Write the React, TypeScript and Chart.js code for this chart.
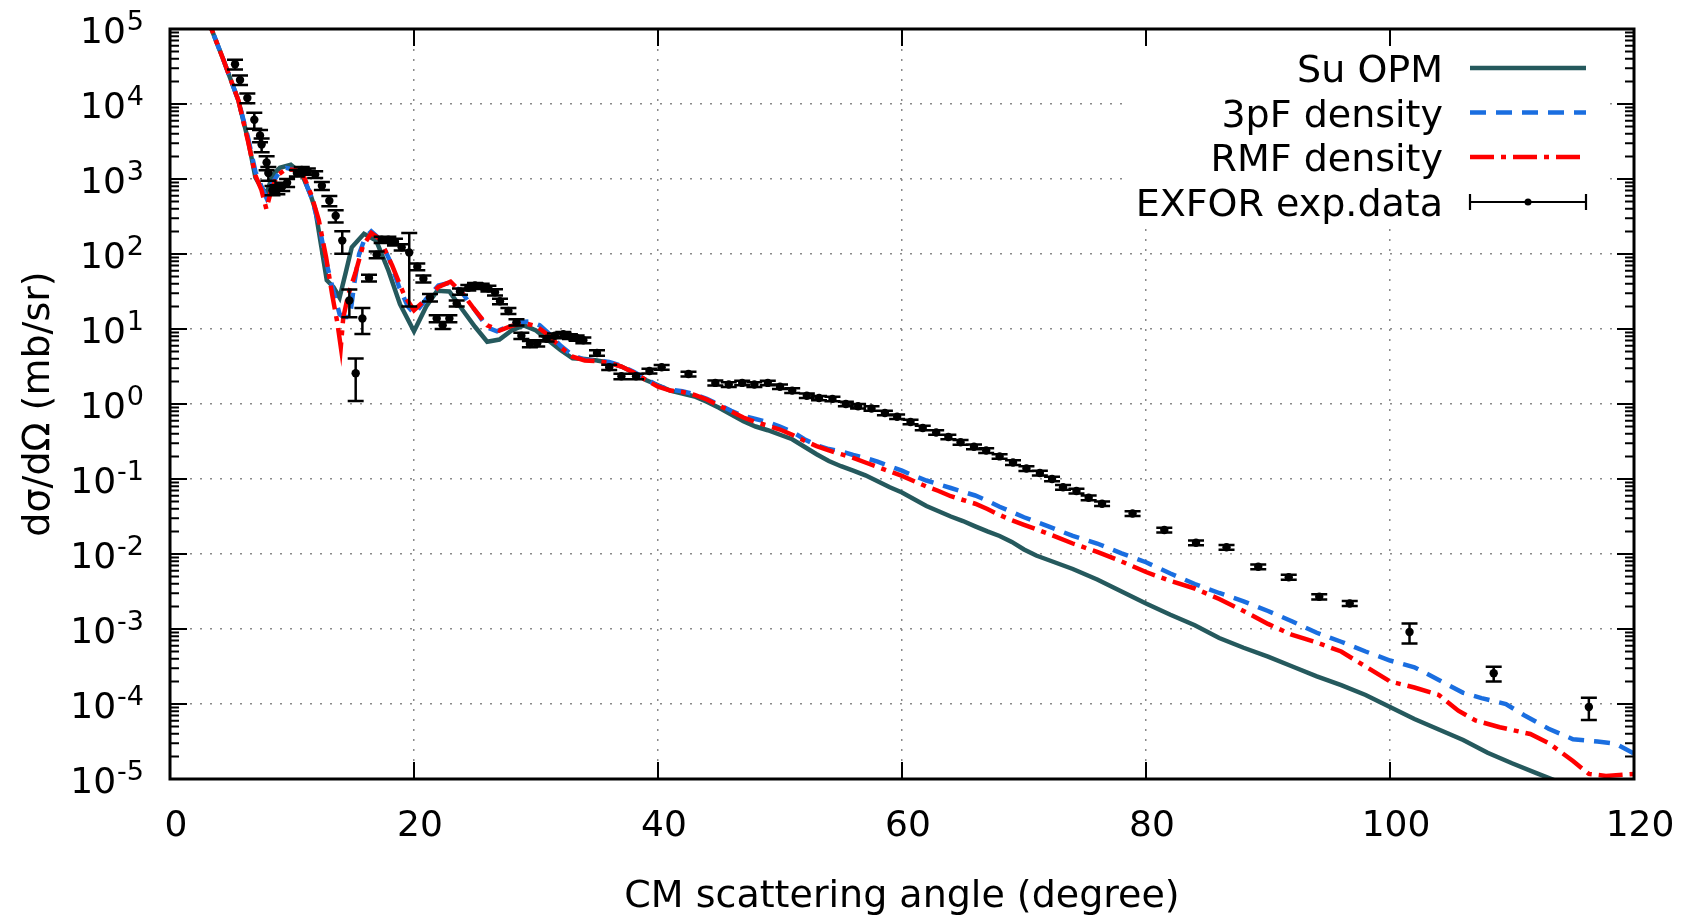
import React, { useEffect, useRef } from "react";
import { Chart, registerables } from "chart.js";

Chart.register(...registerables);

const FONT = "DejaVu Sans";

const seriesLabels = ["Su OPM", "3pF density", "RMF density", "EXFOR exp.data"];
const xTitle = "CM scattering angle (degree)";
const yTitle = "dσ/dΩ (mb/sr)";
const xTickValues = [0, 20, 40, 60, 80, 100, 120];
const yTickValues = [1e-5, 1e-4, 1e-3, 1e-2, 1e-1, 1e0, 1e1, 1e2, 1e3, 1e4, 1e5];
const yTickExponents = ["-5", "-4", "-3", "-2", "-1", "0", "1", "2", "3", "4", "5"];

// Su OPM
const suAngle = [
  3.0, 3.4, 4.4, 5.6, 6.4, 7.0, 7.5, 7.9, 8.4, 9.0,
  9.9, 10.8, 11.5, 11.9, 12.4, 12.85, 13.4, 13.9, 14.4, 14.9,
  15.9, 16.9, 17.9, 18.85, 20.0, 21.0, 21.9, 22.9, 24.0, 25.0,
  26, 27, 28, 29, 30, 31, 32, 33, 34, 35,
  36, 37, 38, 39, 40, 41, 42, 43, 44, 45,
  46, 47, 48, 49, 50, 51, 52, 53, 54, 55,
  56, 57, 58, 59, 60, 61, 62, 63, 64, 65,
  66, 67, 68, 69, 70, 71, 72, 74, 76, 78,
  80, 82, 84, 86, 88, 90, 92, 94, 96, 98,
  100, 102, 104, 106, 108, 110, 112, 114,
];
const suValue = [
  1.78e5, 1.0e5, 3.8e4, 1.12e4, 3.31e3, 1.05e3, 759, 631, 1.12e3, 1.41e3,
  1.55e3, 1.17e3, 631, 398, 126, 44.7, 36.3, 26.3, 56.2, 123,
  186, 151, 60.3, 21.4, 9.33, 20.0, 32.4, 31.6, 17.8, 10.7,
  6.76, 7.24, 9.55, 11.2, 9.55, 7.08, 5.25, 4.07, 3.98, 3.8,
  3.55, 3.16, 2.63, 2.09, 1.78, 1.51, 1.38, 1.26, 1.07, 0.891,
  0.724, 0.589, 0.501, 0.447, 0.389, 0.339, 0.269, 0.214, 0.174, 0.148,
  0.129, 0.112, 0.0933, 0.0776, 0.0661, 0.0537, 0.0437, 0.0372, 0.0316, 0.0275,
  0.0234, 0.02, 0.0174, 0.0145, 0.0115, 0.00955, 0.00832, 0.00631, 0.00457, 0.00316,
  0.00219, 0.00155, 0.00112, 7.59e-4, 5.62e-4, 4.27e-4, 3.16e-4, 2.34e-4, 1.78e-4, 1.32e-4,
  9.12e-5, 6.31e-5, 4.57e-5, 3.31e-5, 2.24e-5, 1.62e-5, 1.2e-5, 8.91e-6,
];

// 3pF density
const pfAngle = [
  3.0, 3.4, 4.4, 5.6, 6.4, 7.0, 7.5, 7.9, 8.4, 9.0,
  9.5, 10.3, 11.0, 11.6, 12.2, 12.8, 13.4, 13.9, 14.2, 14.75,
  15.1, 15.5, 16.0, 16.5, 17.2, 18.0, 18.8, 19.5, 20.05, 21.0,
  22.0, 23.0, 24.0, 25.0, 26.0, 26.8, 27.5, 28.5, 29.5, 30.3,
  31, 32, 33, 34, 35, 36, 37, 38, 39, 40,
  41, 42, 43, 44, 45, 46, 47, 48, 49, 50,
  51, 52, 53, 54, 55, 56, 57, 58, 59, 60,
  61, 62, 63, 64, 65, 66, 67, 68, 69, 70,
  72, 74, 76, 78, 80, 82, 84, 86, 88, 90,
  92, 94, 96, 98, 100, 102, 104, 106, 107.5, 109.5,
  111, 113, 115, 117, 118.5, 120,
];
const pfValue = [
  1.78e5, 1.0e5, 3.8e4, 1.12e4, 3.55e3, 1.26e3, 794, 562, 891, 1.26e3,
  1.41e3, 1.32e3, 1.0e3, 562, 251, 79.4, 31.6, 15.8, 14.5, 14.5,
  39.8, 100, 166, 200, 158, 83.2, 35.5, 20.0, 15.8, 25.1,
  38.0, 41.7, 29.5, 17.8, 10.5, 9.33, 10.5, 12.3, 12.6, 11.2,
  8.91, 6.03, 4.47, 3.89, 3.8, 3.63, 3.24, 2.69, 2.19, 1.74,
  1.55, 1.48, 1.35, 1.17, 0.977, 0.813, 0.692, 0.631, 0.575, 0.501,
  0.427, 0.339, 0.282, 0.251, 0.234, 0.209, 0.191, 0.17, 0.148, 0.129,
  0.11, 0.0955, 0.0851, 0.0759, 0.0676, 0.0603, 0.0513, 0.0427, 0.0363, 0.0309,
  0.0234, 0.0174, 0.0138, 0.0102, 0.00776, 0.0055, 0.00398, 0.00302, 0.00234, 0.00174,
  0.00126, 8.91e-4, 6.76e-4, 5.01e-4, 3.8e-4, 3.09e-4, 2.09e-4, 1.41e-4, 1.2e-4, 1.0e-4,
  7.08e-5, 4.68e-5, 3.39e-5, 3.16e-5, 2.95e-5, 2.19e-5,
];

// RMF density
const rmfAngle = [
  3.0, 3.4, 4.4, 5.6, 6.4, 7.0, 7.5, 7.9, 8.3, 8.8,
  9.5, 10.3, 11.0, 11.6, 12.2, 12.8, 13.3, 13.7, 14.0, 14.2,
  14.6, 15.2, 15.8, 16.5, 17.2, 18.2, 19.2, 20.0, 21.0, 22.0,
  23, 24, 25, 26, 27, 28, 29, 30, 31, 32,
  33, 34, 35, 36, 37, 38, 39, 40, 41, 42,
  43, 44, 45, 46, 47, 48, 49, 50, 51, 52,
  53, 54, 55, 56, 57, 58, 59, 60, 61, 62,
  63, 64, 65, 66, 67, 68, 69, 70, 72, 74,
  76, 78, 80, 82, 84, 86, 88, 90, 92, 94,
  96, 98, 100, 102, 104, 105.6, 107, 109, 111.5, 113,
  115, 116.3, 117.7, 120,
];
const rmfValue = [
  1.78e5, 1.0e5, 3.8e4, 1.12e4, 3.16e3, 1.12e3, 708, 398, 708, 1.12e3,
  1.35e3, 1.32e3, 1.05e3, 603, 282, 89.1, 28.2, 12.6, 5.75, 14.1,
  28.2, 56.2, 126, 191, 158, 70.8, 28.2, 17.8, 25.1, 36.3,
  42.7, 29.5, 17.8, 11.2, 9.55, 11.0, 12.0, 11.0, 8.32, 5.75,
  4.27, 3.8, 3.72, 3.55, 3.16, 2.63, 2.09, 1.7, 1.51, 1.45,
  1.32, 1.15, 0.955, 0.794, 0.661, 0.575, 0.513, 0.457, 0.389, 0.324,
  0.275, 0.24, 0.214, 0.191, 0.166, 0.145, 0.126, 0.11, 0.0933, 0.0794,
  0.0692, 0.0589, 0.0525, 0.0468, 0.0398, 0.0331, 0.0282, 0.0245, 0.0186, 0.0138,
  0.0107, 0.00794, 0.00575, 0.00437, 0.00347, 0.00251, 0.00174, 0.00117, 8.32e-4, 6.61e-4,
  5.01e-4, 3.16e-4, 2.0e-4, 1.66e-4, 1.32e-4, 8.13e-5, 6.03e-5, 4.9e-5, 3.98e-5, 3.02e-5,
  1.74e-5, 1.17e-5, 1.1e-5, 1.17e-5,
];

// EXFOR experimental data
const expAngle = [
  5.33, 5.74, 6.34, 6.91, 7.38, 7.51, 7.92, 8.06, 8.4, 8.8,
  9.2, 9.6, 10.4, 10.8, 11.3, 11.9, 12.45, 13.06, 13.58, 14.12,
  14.7, 15.22, 15.77, 16.31, 16.94, 17.35, 17.9, 18.44, 18.99, 19.61,
  20.27, 20.77, 21.31, 21.86, 22.35, 22.9, 23.5, 23.77, 24.45, 25.0,
  25.55, 26.1, 26.64, 27.05, 27.74, 28.4, 28.8, 29.5, 30.1, 30.87,
  31.55, 32.24, 32.78, 33.33, 33.88, 35.0, 36.0, 37.0, 38.2, 39.3,
  40.3, 42.5, 44.7, 45.8, 46.9, 47.9, 49.0, 50.0, 51.0, 52.2,
  53.2, 54.3, 55.4, 56.4, 57.5, 58.6, 59.6, 60.7, 61.7, 62.8,
  63.8, 64.8, 65.9, 66.9, 68.0, 69.1, 70.2, 71.3, 72.3, 73.2,
  74.3, 75.3, 76.4, 78.9, 81.5, 84.1, 86.6, 89.2, 91.7, 94.2,
  96.7, 101.6, 108.5, 116.3,
];
const expValue = [
  3.39e4, 2.09e4, 1.2e4, 6.17e3, 3.8e3, 2.88e3, 1.66e3, 1.2e3, 708, 724,
  794, 891, 1.2e3, 1.32e3, 1.26e3, 1.15e3, 813, 513, 324, 151,
  24.0, 2.57, 13.8, 47.9, 97.7, 155, 155, 145, 123, 105,
  67.6, 46.8, 26.3, 13.8, 11.2, 13.8, 21.9, 31.6, 35.5, 38.0,
  37.2, 34.7, 30.9, 23.4, 17.4, 12.3, 8.13, 6.31, 6.46, 7.41,
  8.13, 8.51, 7.94, 7.59, 7.08, 4.79, 3.09, 2.34, 2.34, 2.75,
  3.09, 2.51, 1.91, 1.82, 1.91, 1.82, 1.91, 1.7, 1.51, 1.29,
  1.2, 1.17, 1.0, 0.933, 0.871, 0.759, 0.676, 0.575, 0.479, 0.417,
  0.363, 0.309, 0.269, 0.24, 0.2, 0.166, 0.138, 0.12, 0.1, 0.0776,
  0.0692, 0.0562, 0.0468, 0.0347, 0.0209, 0.0141, 0.0123, 0.00676, 0.0049, 0.00269,
  0.00219, 9.12e-4, 2.57e-4, 9.12e-5,
];
const expError = [
  5.0e3, 3.0e3, 1.8e3, 1.5e3, 700, 600, 350, 250, 100, 100,
  100, 110, 120, 130, 120, 120, 100, 80, 60, 50,
  9.7, 1.47, 5.2, 5, 10, 15, 15, 15, 12, 85,
  7, 5, 3, 1.5, 1.2, 1.5, 2, 3, 3, 3,
  3, 3, 3, 2, 1.6, 1.2, 0.8, 0.6, 0.6, 0.6,
  0.6, 0.6, 0.6, 0.6, 0.6, 0.4, 0.25, 0.2, 0.2, 0.2,
  0.22, 0.18, 0.14, 0.13, 0.13, 0.13, 0.13, 0.12, 0.11, 0.09,
  0.08, 0.08, 0.07, 0.065, 0.06, 0.053, 0.047, 0.04, 0.034, 0.029,
  0.025, 0.022, 0.019, 0.017, 0.014, 0.012, 0.01, 0.0085, 0.007, 0.0055,
  0.0049, 0.004, 0.0033, 0.0025, 0.0015, 0.001, 0.0009, 0.0005, 0.00038, 0.00022,
  0.00017, 2.7e-4, 5.8e-5, 3.0e-5,
];

const TEAL = "#25595d";
const BLUE = "#1a6ee0";
const RED = "#ff0000";

const decorPlugin = {
  id: "decor",
  afterDatasetsDraw(chart: any) {
    const { ctx, chartArea: a } = chart;
    const x = chart.scales.x;
    const y = chart.scales.y;
    ctx.save();
    ctx.beginPath();
    ctx.rect(a.left, a.top, a.right - a.left, a.bottom - a.top);
    ctx.clip();
    // error bars
    ctx.strokeStyle = "#000";
    ctx.lineWidth = 2.5;
    ctx.beginPath();
    for (let i = 0; i < expAngle.length; i++) {
      const px = x.getPixelForValue(expAngle[i]);
      const y1 = y.getPixelForValue(expValue[i] - expError[i]);
      const y2 = y.getPixelForValue(expValue[i] + expError[i]);
      ctx.moveTo(px, y1);
      ctx.lineTo(px, y2);
      ctx.moveTo(px - 8, y1);
      ctx.lineTo(px + 8, y1);
      ctx.moveTo(px - 8, y2);
      ctx.lineTo(px + 8, y2);
    }
    ctx.stroke();
    ctx.restore();

    // key (opaque)
    ctx.save();
    ctx.fillStyle = "#fff";
    ctx.fillRect(1125, 46, 483, 182);
    const ds = chart.data.datasets;
    const rowY = [68, 112.5, 157, 202];
    const textRight = 1443;
    const s0 = 1470;
    const s1 = 1586;
    ctx.font = `38px "${FONT}"`;
    ctx.fillStyle = "#000";
    ctx.textAlign = "right";
    ctx.textBaseline = "alphabetic";
    for (let i = 0; i < 4; i++) {
      const d = ds[i];
      ctx.fillText(d.label, textRight, rowY[i] + 14);
      if (i < 3) {
        ctx.save();
        ctx.strokeStyle = d.borderColor;
        ctx.lineWidth = d.borderWidth;
        ctx.setLineDash(d.borderDash || []);
        ctx.beginPath();
        ctx.moveTo(s0, rowY[i]);
        ctx.lineTo(s1, rowY[i]);
        ctx.stroke();
        ctx.restore();
      } else {
        ctx.save();
        ctx.strokeStyle = "#000";
        ctx.lineWidth = 2.2;
        ctx.beginPath();
        ctx.moveTo(s0, rowY[i]);
        ctx.lineTo(s1, rowY[i]);
        ctx.moveTo(s0, rowY[i] - 8);
        ctx.lineTo(s0, rowY[i] + 8);
        ctx.moveTo(s1, rowY[i] - 8);
        ctx.lineTo(s1, rowY[i] + 8);
        ctx.stroke();
        ctx.fillStyle = "#000";
        ctx.beginPath();
        ctx.arc((s0 + s1) / 2, rowY[i], 3.5, 0, Math.PI * 2);
        ctx.fill();
        ctx.restore();
      }
    }
    ctx.restore();
  },
  afterDraw(chart: any) {
    const { ctx, chartArea: a } = chart;
    const x = chart.scales.x;
    const y = chart.scales.y;
    ctx.save();
    ctx.strokeStyle = "#000";
    // inward ticks
    ctx.lineWidth = 2;
    ctx.beginPath();
    for (const v of xTickValues) {
      const px = x.getPixelForValue(v);
      ctx.moveTo(px, a.bottom);
      ctx.lineTo(px, a.bottom - 17);
      ctx.moveTo(px, a.top);
      ctx.lineTo(px, a.top + 17);
    }
    for (let k = 0; k < yTickValues.length; k++) {
      const dec = yTickValues[k];
      const py = y.getPixelForValue(dec);
      ctx.moveTo(a.left, py);
      ctx.lineTo(a.left + 17, py);
      ctx.moveTo(a.right, py);
      ctx.lineTo(a.right - 17, py);
      if (k < yTickValues.length - 1) {
        for (let m = 2; m <= 9; m++) {
          const pm = y.getPixelForValue(dec * m);
          ctx.moveTo(a.left, pm);
          ctx.lineTo(a.left + 9, pm);
          ctx.moveTo(a.right, pm);
          ctx.lineTo(a.right - 9, pm);
        }
      }
    }
    ctx.stroke();
    // frame
    ctx.lineWidth = 3;
    ctx.strokeRect(a.left, a.top, a.right - a.left, a.bottom - a.top);

    // y tick labels with superscript exponents
    ctx.fillStyle = "#000";
    ctx.textAlign = "right";
    ctx.textBaseline = "alphabetic";
    const right = 144;
    for (let k = 0; k < yTickValues.length; k++) {
      const py = y.getPixelForValue(yTickValues[k]);
      ctx.font = `27px "${FONT}"`;
      const e = yTickExponents[k];
      const ew = ctx.measureText(e).width;
      ctx.fillText(e, right, py + 1);
      ctx.font = `36px "${FONT}"`;
      ctx.fillText("10", right - ew - 1, py + 14);
    }
    ctx.restore();
  },
};

export default function App() {
  const ref = useRef<HTMLCanvasElement | null>(null);
  useEffect(() => {
    if (!ref.current) return;
    const toXY = (xs: number[], ys: number[]) => xs.map((v, i) => ({ x: v, y: ys[i] }));
    const chart = new Chart(ref.current, {
      type: "line",
      data: {
        datasets: [
          {
            label: seriesLabels[0],
            data: toXY(suAngle, suValue),
            borderColor: TEAL,
            backgroundColor: TEAL,
            borderWidth: 4.5,
            pointRadius: 0,
            tension: 0,
            order: 3,
          },
          {
            label: seriesLabels[1],
            data: toXY(pfAngle, pfValue),
            borderColor: BLUE,
            backgroundColor: BLUE,
            borderWidth: 4.5,
            borderDash: [16, 10],
            pointRadius: 0,
            tension: 0,
            order: 2,
          },
          {
            label: seriesLabels[2],
            data: toXY(rmfAngle, rmfValue),
            borderColor: RED,
            backgroundColor: RED,
            borderWidth: 4.5,
            borderDash: [24, 7, 5, 7],
            pointRadius: 0,
            tension: 0,
            order: 1,
          },
          {
            label: seriesLabels[3],
            data: toXY(expAngle, expValue),
            showLine: false,
            borderColor: "#000",
            backgroundColor: "#000",
            borderWidth: 0,
            pointRadius: 4.2,
            pointHoverRadius: 4.2,
            order: 0,
          },
        ] as any,
      },
      options: {
        responsive: false,
        animation: false,
        devicePixelRatio: 1,
        layout: { padding: { left: 0, right: 49, top: 29, bottom: 0 } },
        plugins: { legend: { display: false }, tooltip: { enabled: false } },
        scales: {
          x: {
            type: "linear",
            min: 0,
            max: 120,
            afterBuildTicks: (s: any) => {
              s.ticks = xTickValues.map((v) => ({ value: v }));
            },
            afterFit: (s: any) => {
              s.height = 136;
              s.paddingLeft = 0;
              s.paddingRight = 0;
            },
            ticks: {
              color: "#000",
              font: { family: FONT, size: 36 },
              padding: 26,
              labelOffset: 6,
              maxRotation: 0,
              autoSkip: false,
            },
            grid: { color: "#8a8a8a", lineWidth: 1.5, drawTicks: false },
            border: { display: false, dash: [2, 8] },
            title: {
              display: true,
              text: xTitle,
              color: "#000",
              font: { family: FONT, size: 38, lineHeight: 0.95 },
              padding: 0,
            },
          },
          y: {
            type: "logarithmic",
            min: 1e-5,
            max: 1e5,
            afterBuildTicks: (s: any) => {
              s.ticks = yTickValues.map((v) => ({ value: v }));
            },
            afterFit: (s: any) => {
              s.width = 170;
              s.paddingTop = 0;
              s.paddingBottom = 0;
            },
            ticks: { display: false },
            grid: { color: "#8a8a8a", lineWidth: 1.5, drawTicks: false },
            border: { display: false, dash: [2, 8] },
            title: {
              display: true,
              text: yTitle,
              color: "#000",
              font: { family: FONT, size: 38, lineHeight: 1.2 },
              padding: { top: 16, bottom: 0 },
            },
          },
        } as any,
      },
      plugins: [decorPlugin],
    });
    return () => chart.destroy();
  }, []);
  return (
    <div style={{ position: "absolute", left: 0, top: 0, width: 1683, height: 915, background: "#fff" }}>
      <canvas ref={ref} width={1683} height={915} style={{ display: "block", width: 1683, height: 915 }} />
    </div>
  );
}
